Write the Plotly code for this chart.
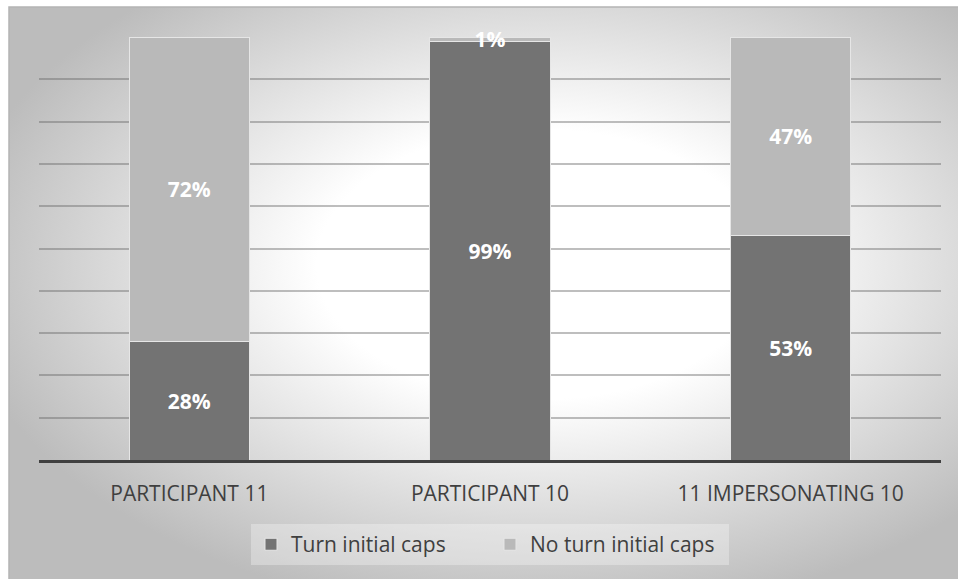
import base64
import plotly.graph_objects as go

# Chart data (percent of turns)
categories = ["PARTICIPANT 11", "PARTICIPANT 10", "11 IMPERSONATING 10"]
turn_initial_caps = [28, 99, 53]
no_turn_initial_caps = [72, 1, 47]
series_names = ["Turn initial caps", "No turn initial caps"]

W, H = 958, 579
ML, MR, MT, MB = 39, 17, 37, 119
pw, ph = W - ML - MR, H - MT - MB

FONT = "Open Sans"

fig = go.Figure()
for name, vals, color in [
    (series_names[0], turn_initial_caps, "#737373"),
    (series_names[1], no_turn_initial_caps, "#b9b9b9"),
]:
    fig.add_trace(go.Bar(
        x=categories, y=vals, name=name,
        marker=dict(color=color, line=dict(color="#e6e6e6", width=1)),
        text=[f"{v}%" for v in vals],
        textposition="inside", insidetextanchor="middle",
        textangle=0, constraintext="none", cliponaxis=False,
        textfont=dict(family=FONT, size=21, color="white", weight="bold"),
        hoverinfo="skip",
    ))

# radial grey gradient behind the whole chart area
svg = (
    '<svg xmlns="http://www.w3.org/2000/svg" width="949" height="572" '
    'viewBox="0 0 949 572" preserveAspectRatio="none">'
    '<defs><radialGradient id="g" cx="0.56" cy="0.45" r="0.62">'
    '<stop offset="0" stop-color="#ffffff"/>'
    '<stop offset="0.38" stop-color="#ffffff"/>'
    '<stop offset="1" stop-color="#bcbcbc"/>'
    '</radialGradient></defs>'
    '<rect width="949" height="572" fill="url(#g)"/></svg>'
)
src = "data:image/svg+xml;base64," + base64.b64encode(svg.encode()).decode()

x0p = (9 - ML) / pw
y0p = (H - MB - 7) / ph
sx = (W - 9) / pw
sy = (H - 7) / ph

fig.update_layout(
    width=W, height=H,
    margin=dict(l=ML, r=MR, t=MT, b=MB),
    barmode="stack", bargap=0.6,
    paper_bgcolor="white", plot_bgcolor="rgba(0,0,0,0)",
    uniformtext=dict(minsize=21, mode="show"),
    images=[dict(source=src, xref="paper", yref="paper", x=x0p, y=y0p,
                 sizex=sx, sizey=sy, xanchor="left", yanchor="top",
                 sizing="stretch", layer="below")],
    shapes=[dict(type="rect", xref="paper", yref="paper",
                 x0=x0p, x1=x0p + sx + 0.01, y0=y0p - sy - 0.01, y1=y0p,
                 line=dict(color="#b4b4b4", width=1.5), fillcolor="rgba(0,0,0,0)",
                 layer="below")],
    xaxis=dict(showgrid=False, showline=True, linecolor="#404040", linewidth=3,
               ticks="", ticklabelstandoff=13,
               tickfont=dict(family=FONT, size=21, color="#3f3f3f")),
    yaxis=dict(range=[0, 100], dtick=10, showticklabels=False,
               showgrid=True, gridcolor="rgba(100,100,100,0.42)", gridwidth=1.5,
               zeroline=False, showline=False),
    legend=dict(orientation="h", x=0.5, xanchor="center", y=-0.2, yanchor="middle",
                bgcolor="rgba(255,255,255,0.3)", traceorder="normal",
                font=dict(family=FONT, size=21, color="#3f3f3f"),
                itemwidth=30, entrywidth=194),
    showlegend=True,
)

fig.write_html("out.html")
